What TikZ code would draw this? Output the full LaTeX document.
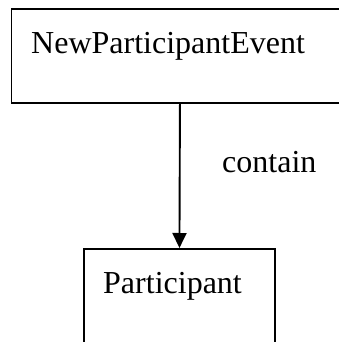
\documentclass[tikz,border=0pt]{standalone}
\usepackage{fontspec}
\setmainfont{Liberation Serif}
\usetikzlibrary{arrows.meta}
\begin{document}
\begin{tikzpicture}[x=1pt,y=1pt,
  box/.style={draw=black,line width=1.9pt,rectangle,inner sep=0pt},
  lbl/.style={anchor=base west,inner sep=0pt,font=\fontsize{32}{36}\selectfont},
  conn/.style={line width=1.9pt,-{Triangle[length=15pt,width=14pt]}}]
\useasboundingbox (0,0) rectangle (339,-342);
\clip (0,0) rectangle (339,-342);
\node[box,minimum width=337pt,minimum height=93.5pt,anchor=north west] (top) at (10.5,-8.5) {};
\node[box,minimum width=191pt,minimum height=140pt,anchor=north west] (bot) at (83,-248) {};
\node[lbl] (t1) at (31,-54) {NewParticipantEvent};
\node[lbl] (t2) at (103,-293) {Participant};
\node[lbl] (t3) at (222,-172) {contain};
\draw[conn] (top.south) -- (bot.north);
\end{tikzpicture}
\end{document}
